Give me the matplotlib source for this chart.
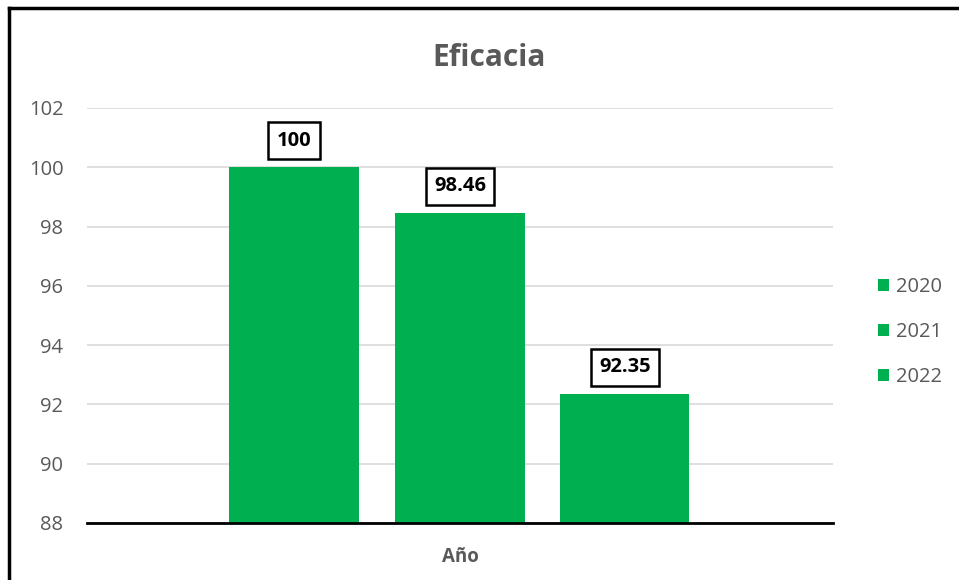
import matplotlib.pyplot as plt
from matplotlib.lines import Line2D

years = ['2020', '2021', '2022']
values = [100, 98.46, 92.35]
labels = ['100', '98.46', '92.35']
yticks = [88, 90, 92, 94, 96, 98, 100, 102]

green = '#00B050'
gray = '#595959'

plt.rcParams['font.family'] = ['Open Sans', 'DejaVu Sans']

fig = plt.figure(figsize=(9.59, 5.8), dpi=100)
ax = fig.add_axes([0.0907, 0.0983, 0.7779, 0.7155])

offsets = [-0.2225, 0.0, 0.221]
width = 0.173
for off, yr, v, lab in zip(offsets, years, values, labels):
    ax.bar(off, v - 88, bottom=88, width=width, color=green, label=yr, zorder=3)
    ax.text(off, v + 0.9, lab, ha='center', va='center', fontsize=14.5,
            fontweight='bold', color='black',
            bbox=dict(boxstyle='square,pad=0.42', fc='white', ec='black', lw=1.8), zorder=4)

ax.set_xlim(-0.5, 0.5)
ax.set_ylim(88, 102)
ax.set_yticks(yticks)
ax.set_yticklabels([str(t) for t in yticks], fontsize=14.5, color=gray)
ax.set_xticks([])
ax.tick_params(axis='y', length=0, pad=17)
ax.grid(axis='y', color='#d9d9d9', lw=1.2, zorder=0)
for s in ['top', 'right', 'left']:
    ax.spines[s].set_visible(False)
ax.spines['bottom'].set_color('black')
ax.spines['bottom'].set_linewidth(2)
ax.spines['bottom'].set_zorder(5)

ax.set_xlabel('Año', fontsize=13.5, fontweight='bold', color=gray, labelpad=17)
fig.text(0.510, 0.9, 'Eficacia', ha='center', va='center', fontsize=21.5,
         fontweight='bold', color=gray)

fig.legend(loc='center left', bbox_to_anchor=(0.907, 0.4276), frameon=False,
           fontsize=14.5, labelcolor=gray, handlelength=0.55, handleheight=0.55,
           handletextpad=0.35, labelspacing=1.25, borderaxespad=0)

# chart frame (left and top edges visible)
fig.add_artist(Line2D([9 / 959, 9 / 959], [0, 1 - 8 / 580], color='black', lw=2.5))
fig.add_artist(Line2D([9 / 959, 1], [1 - 8 / 580, 1 - 8 / 580], color='black', lw=2.5))

fig.savefig('out.png', dpi=100)
